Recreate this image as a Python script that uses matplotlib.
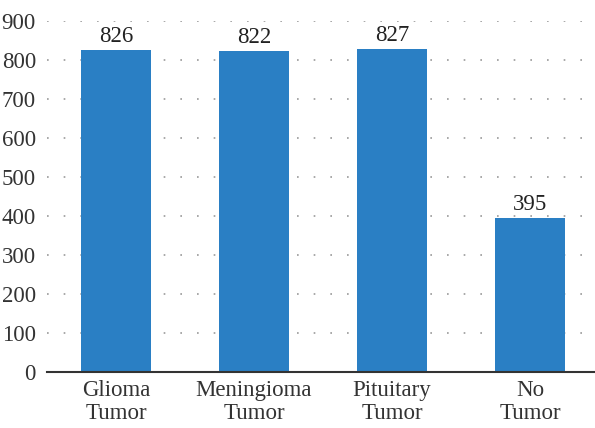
import matplotlib
matplotlib.use("Agg")
import matplotlib.pyplot as plt

categories = ["Glioma\nTumor", "Meningioma\nTumor", "Pituitary\nTumor", "No\nTumor"]
counts = [826, 822, 827, 395]
yticks = [0, 100, 200, 300, 400, 500, 600, 700, 800, 900]

plt.rcParams['font.family'] = ['Liberation Serif', 'DejaVu Serif']

fig = plt.figure(figsize=(5.95, 4.28), dpi=100)
ax = fig.add_axes([47/595, 1 - 372/428, (595 - 47)/595, (372 - 21)/428])

x = list(range(len(categories)))
bars = ax.bar(x, counts, width=0.507, color="#2a7fc4", zorder=3)
for xi, v in zip(x, counts):
    ax.text(xi, v + 8, str(v), ha="center", va="bottom", fontsize=16.5, color="#222222")

ax.set_xlim(-0.5, -0.5 + 548/138)
ax.set_ylim(0, 900)
ax.set_yticks(yticks)
ax.set_xticks(x)
ax.set_xticklabels(categories, fontsize=16.5, color="#333333", linespacing=1.1)
ax.tick_params(axis="y", labelsize=16.5, colors="#333333", length=0, pad=8)
ax.tick_params(axis="x", length=0, pad=6)
ax.yaxis.grid(True, linestyle=(0, (1, 9)), color="#999999", linewidth=1.2, zorder=0)
ax.set_axisbelow(True)
for s in ["top", "right", "left"]:
    ax.spines[s].set_visible(False)
ax.spines["bottom"].set_color("#333333")
ax.spines["bottom"].set_linewidth(1.5)
ax.spines["bottom"].set_zorder(4)

fig.savefig("out.png", dpi=100)
